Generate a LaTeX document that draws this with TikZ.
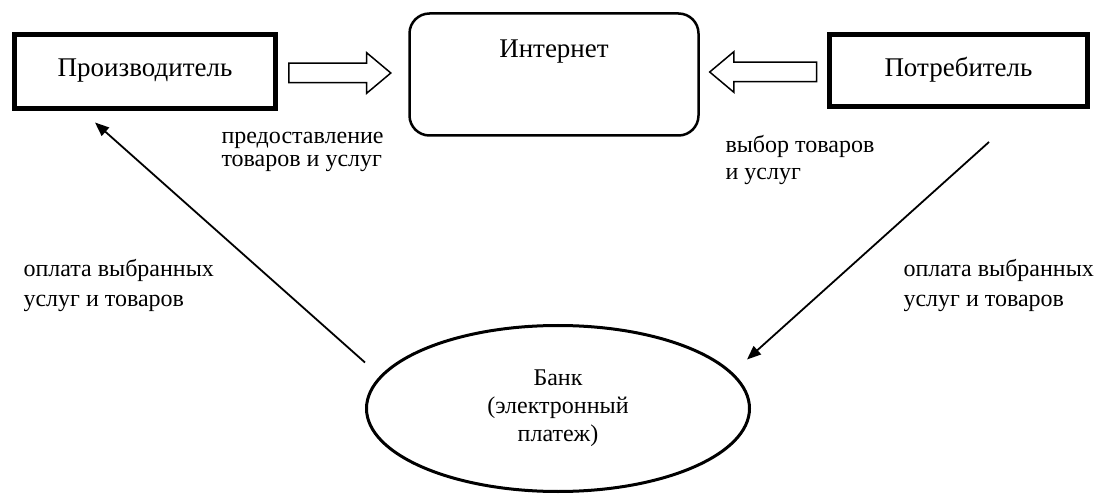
\documentclass[tikz,border=0pt]{standalone}
\usepackage{fontspec}
\setmainfont{Liberation Serif}
\usetikzlibrary{shapes.geometric,shapes.arrows,arrows.meta}

\begin{document}
\begin{tikzpicture}[x=1pt,y=1pt,
  every node/.style={font=\fontsize{24}{24}\selectfont},
  party/.style={draw,line width=5pt,minimum width=261,minimum height=74,
    font=\fontsize{27}{27}\selectfont,text height=20pt,text depth=10pt},
  net/.style={draw,line width=2.5pt,rounded corners=20pt,minimum width=289,minimum height=122,
    font=\fontsize{27}{27}\selectfont,text height=20pt,text depth=53pt},
  bank/.style={draw,ellipse,line width=3pt,minimum width=383,minimum height=166,align=center},
  bigarrow/.style={draw,single arrow,line width=1.5pt,minimum height=102,inner xsep=0pt,inner ysep=9pt,
    single arrow head extend=10.5pt,single arrow tip angle=80},
  note/.style={align=left,anchor=west},
  pay/.style={line width=1.8pt,-{Triangle[length=14pt,width=11pt]}}]
\useasboundingbox (0,0) rectangle (1095,493);
\node[party] (prod) at (145,421) {Производитель};
\node[net] (inet) at (554,418.5) {Интернет};
\node[party,minimum width=258,minimum height=72,text depth=7pt] (cons) at (958.5,422.5) {Потребитель};
\node[bank] (bnk) at (558,84.5) {Банк\\[4pt](электронный\\[4pt]платеж)};
\node[bigarrow] (toinet) at (334,420) {};
\node[bigarrow,minimum height=107,shape border rotate=180] (fromcons) at (769,421) {};
\node[note] (give) at (218,341.5) {предоставление\\[-1pt]товаров и услуг};
\node[note] (choose) at (722,332.5) {выбор товаров\\[3pt]и услуг};
\node[note] (payl) at (20,207) {оплата выбранных\\[6pt]услуг и товаров};
\node[note] (payr) at (900,207) {оплата выбранных\\[6pt]услуг и товаров};
% payment lines
\draw[pay] ([yshift=46pt]bnk.west) -- ([xshift=83pt,yshift=-11pt]prod.south west);
\draw[pay] ([xshift=-101pt,yshift=-33pt]cons.south east) -- ([xshift=-4pt,yshift=49pt]bnk.east);
\end{tikzpicture}
\end{document}
